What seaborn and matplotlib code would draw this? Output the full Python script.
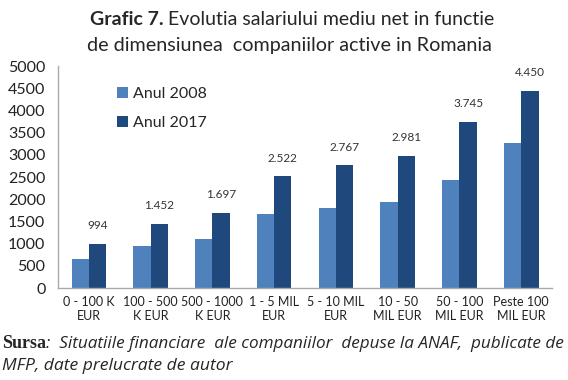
import numpy as np
import pandas as pd
import matplotlib
matplotlib.use("Agg")
import matplotlib.pyplot as plt
import seaborn as sns

sns.set_style("white")
plt.rcParams['font.family'] = ['Lato', 'DejaVu Sans']

#data
categories = ['0 - 100 K\nEUR', '100 - 500\nK EUR', '500 - 1000\nK EUR', '1 - 5 MIL\nEUR',
              '5 - 10 MIL\nEUR', '10 - 50\nMIL EUR', '50 - 100\nMIL EUR', 'Peste 100\nMIL EUR']
anul_2008 = [650, 945, 1100, 1660, 1810, 1940, 2430, 3260]
anul_2017 = [994, 1452, 1697, 2522, 2767, 2981, 3745, 4450]
labels_2017 = ['994', '1.452', '1.697', '2.522', '2.767', '2.981', '3.745', '4.450']
series = ['Anul 2008', 'Anul 2017']

df = pd.DataFrame({
    'categorie': categories * 2,
    'an': [series[0]] * len(categories) + [series[1]] * len(categories),
    'valoare': anul_2008 + anul_2017,
})

fig = plt.figure(figsize=(5.68, 3.8), dpi=100)
ax = fig.add_axes([0.102, 0.242, 0.870, 0.584])

sns.barplot(data=df, x='categorie', y='valoare', hue='an', ax=ax,
            palette=['#4F81BD', '#1F497D'], width=0.56, saturation=1,
            edgecolor='none')

ax.set_ylim(0, 5000)
ax.set_yticks(np.arange(0, 5001, 500))
ax.set_xlabel('')
ax.set_ylabel('')
ax.tick_params(axis='y', labelsize=11.5, length=0, pad=9, colors='#222222')
ax.tick_params(axis='x', length=0, pad=6, colors='#222222')
ax.set_xticks(range(len(categories)))
ax.set_xticklabels(categories, fontsize=9, ha='center', multialignment='center')
for s in ['top', 'right']:
    ax.spines[s].set_visible(False)
for s in ['left', 'bottom']:
    ax.spines[s].set_color('#AAAAAA')
    ax.spines[s].set_linewidth(1)

#value labels above the 2017 bars
for bar, lab in zip(ax.containers[1], labels_2017):
    ax.annotate(lab, (bar.get_x() + bar.get_width() / 2, bar.get_height()),
                xytext=(0, 9), textcoords='offset points', ha='center', va='bottom',
                fontsize=8.5, color='#333333')

leg = ax.legend(loc='upper left', bbox_to_anchor=(0.09, 0.97), frameon=False,
                fontsize=11.5, handlelength=0.7, handleheight=0.7, handletextpad=0.3,
                labelspacing=0.9)

#title: bold prefix then normal text
t1 = fig.text(0.158, 0.935, 'Grafic 7.', fontsize=14, fontweight='bold', ha='left', va='baseline')
ax.annotate(' Evolutia salariului mediu net in functie', xy=(1, 0), xycoords=t1,
            fontsize=14, ha='left', va='bottom', annotation_clip=False)
fig.text(0.51, 0.865, 'de dimensiunea  companiilor active in Romania', fontsize=14.2,
         ha='center', va='baseline')

#source note
s1 = fig.text(0.004, 0.085, 'Sursa', fontsize=13, fontweight='bold', family='Liberation Serif',
              ha='left', va='baseline')
ax.annotate(':  Situatiile financiare  ale companiilor  depuse la ANAF,  publicate de',
            xy=(1, 0), xycoords=s1, fontsize=12.3, style='italic', family='Open Sans',
            ha='left', va='bottom', annotation_clip=False)
fig.text(0.004, 0.025, 'MFP, date prelucrate de autor', fontsize=12.6, style='italic',
         family='Open Sans', ha='left', va='baseline')

fig.savefig('out.png', dpi=100)
